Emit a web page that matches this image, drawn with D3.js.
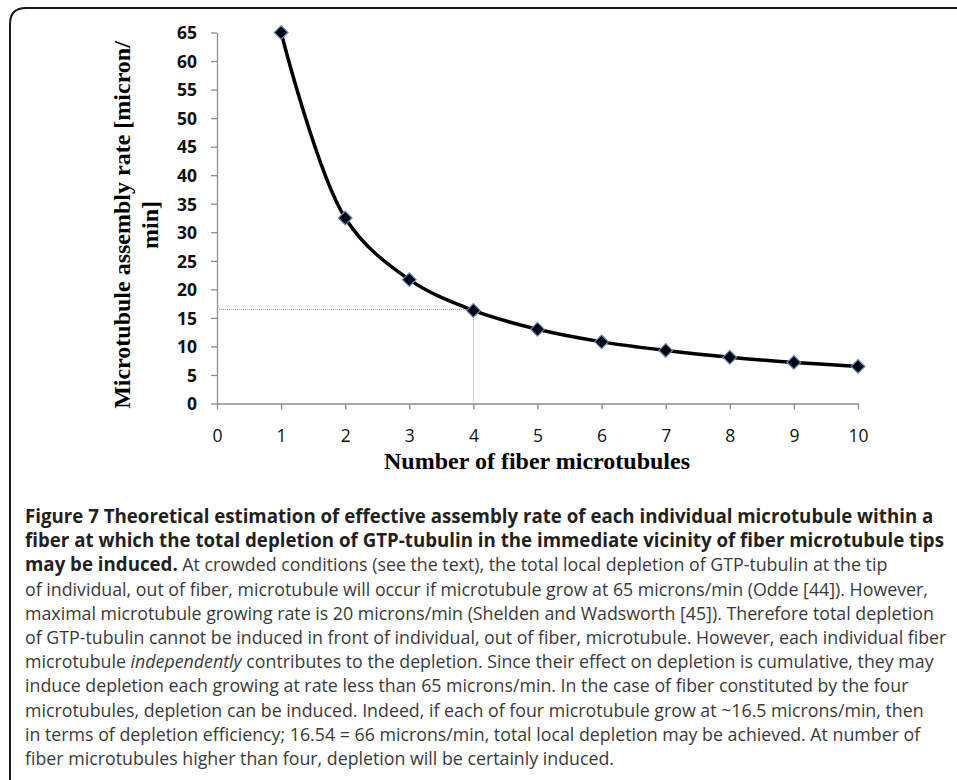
<!DOCTYPE html>
<html>
<head>
<meta charset="utf-8">
<script src="https://cdn.jsdelivr.net/npm/d3@7"></script>
<style>
  body { margin: 0; background: #fff; }
  svg { display: block; }
</style>
</head>
<body>
<div id="chart"></div>
<script>
// number of fiber microtubules and assembly rate
const fibers = [1, 2, 3, 4, 5, 6, 7, 8, 9, 10];
const rates = [65, 32.5, 21.7, 16.3, 13, 10.8, 9.3, 8.1, 7.2, 6.5];
const yTicks = [0, 5, 10, 15, 20, 25, 30, 35, 40, 45, 50, 55, 60, 65];
const xTicks = [0, 1, 2, 3, 4, 5, 6, 7, 8, 9, 10];
// guide point: four microtubules at ~16.5 microns/min
const guide = { x: 4, y: 16.5 };

const captionLines = [
	[{ t: "Figure 7 Theoretical estimation of effective assembly rate of each individual microtubule within a", w: "bold" }],
	[{ t: "fiber at which the total depletion of GTP-tubulin in the immediate vicinity of fiber microtubule tips", w: "bold" }],
	[{ t: "may be induced.", w: "bold" }, { t: " At crowded conditions (see the text), the total local depletion of GTP-tubulin at the tip" }],
	[{ t: "of individual, out of fiber, microtubule will occur if microtubule grow at 65 microns/min (Odde [44]). However," }],
	[{ t: "maximal microtubule growing rate is 20 microns/min (Shelden and Wadsworth [45]). Therefore total depletion" }],
	[{ t: "of GTP-tubulin cannot be induced in front of individual, out of fiber, microtubule. However, each individual fiber" }],
	[{ t: "microtubule " }, { t: "independently", s: "italic" }, { t: " contributes to the depletion. Since their effect on depletion is cumulative, they may" }],
	[{ t: "induce depletion each growing at rate less than 65 microns/min. In the case of fiber constituted by the four" }],
	[{ t: "microtubules, depletion can be induced. Indeed, if each of four microtubule grow at ~16.5 microns/min, then" }],
	[{ t: "in terms of depletion efficiency; 16.54 = 66 microns/min, total local depletion may be achieved. At number of" }],
	[{ t: "fiber microtubules higher than four, depletion will be certainly induced." }],
];

const width = 957;
const height = 780;

const svg = d3
	.select("#chart")
	.append("svg")
	.attr("width", width)
	.attr("height", height)
	.attr("viewBox", `0 0 ${width} ${height}`);

// frame: rounded top-left corner, open to the right and bottom
svg
	.append("path")
	.attr("d", "M10,780 L10,24 Q10,8 26,8 L957,8")
	.attr("fill", "none")
	.attr("stroke", "#1a1a1a")
	.attr("stroke-width", 2);

const x = d3.scaleLinear().domain([0, 10]).range([217, 858]);
const y = d3.scaleLinear().domain([0, 65]).range([403.5, 32.5]);

// axes
const xAxis = svg
	.append("g")
	.attr("transform", `translate(0,${y(0)})`)
	.call(d3.axisBottom(x).tickValues(xTicks).tickSize(6).tickPadding(20).tickSizeOuter(0));

const yAxis = svg
	.append("g")
	.attr("transform", `translate(${x(0)},0)`)
	.call(d3.axisLeft(y).tickValues(yTicks).tickSize(6).tickPadding(14).tickSizeOuter(0));

[xAxis, yAxis].forEach((g) => {
	g.select(".domain").attr("stroke", "#8c8c8c").attr("stroke-width", 1.3);
	g.selectAll(".tick line").attr("stroke", "#8c8c8c").attr("stroke-width", 1.3);
	g.selectAll(".tick text").attr("fill", "#111").attr("font-family", "Open Sans");
});
xAxis.selectAll(".tick text").attr("font-size", 17.5);
yAxis.selectAll(".tick text").attr("font-size", 17.5).attr("font-weight", "bold").attr("dy", "0.36em");

// dotted guide lines
svg
	.append("line")
	.attr("x1", x(0))
	.attr("x2", x(guide.x))
	.attr("y1", y(guide.y))
	.attr("y2", y(guide.y))
	.attr("stroke", "#9a9a9a")
	.attr("stroke-width", 1)
	.attr("stroke-dasharray", "1,1");

svg
	.append("line")
	.attr("x1", x(guide.x))
	.attr("x2", x(guide.x))
	.attr("y1", y(guide.y))
	.attr("y2", y(0))
	.attr("stroke", "#9a9a9a")
	.attr("stroke-width", 1)
	.attr("stroke-dasharray", "1,1");

// smoothed series line
const points = fibers.map((f, i) => [f, rates[i]]);
const line = d3
	.line()
	.x((d) => x(d[0]))
	.y((d) => y(d[1]))
	.curve(d3.curveCatmullRom.alpha(0.5));

svg
	.append("path")
	.datum(points)
	.attr("d", line)
	.attr("fill", "none")
	.attr("stroke", "#000")
	.attr("stroke-width", 3.5);

// diamond markers
const diamond = d3.symbol().type(d3.symbolDiamond2).size(120);
svg
	.selectAll(".marker")
	.data(points)
	.enter()
	.append("path")
	.attr("class", "marker")
	.attr("d", diamond)
	.attr("transform", (d) => `translate(${x(d[0])},${y(d[1])})`)
	.attr("fill", "#000")
	.attr("stroke", "#5b8fd0")
	.attr("stroke-width", 1.2);

// axis titles
svg
	.append("text")
	.attr("x", 537)
	.attr("y", 469)
	.attr("text-anchor", "middle")
	.attr("font-family", "Liberation Serif")
	.attr("font-weight", "bold")
	.attr("font-size", 24)
	.attr("fill", "#000")
	.text("Number of fiber microtubules");

const yTitle = svg
	.append("text")
	.attr("transform", "translate(0,225) rotate(-90)")
	.attr("text-anchor", "middle")
	.attr("font-family", "Liberation Serif")
	.attr("font-weight", "bold")
	.attr("font-size", 24)
	.attr("fill", "#000");

yTitle.append("tspan").attr("x", 0).attr("y", 130).text("Microtubule assembly rate [micron/");
yTitle.append("tspan").attr("x", 0).attr("y", 158).text("min]");

// caption
const caption = svg.append("g").attr("font-family", "Open Sans");

captionLines.forEach((parts, i) => {
	const t = caption
		.append("text")
		.attr("x", 25)
		.attr("y", 523 + i * 24.2);
	parts.forEach((p) => {
		t.append("tspan")
			.attr("font-weight", p.w || "normal")
			.attr("font-style", p.s || "normal")
			.attr("font-size", p.w ? 18.7 : 17.8)
			.attr("fill", p.w ? "#231f20" : "#3a3a3a")
			.text(p.t);
	});
});
</script>
</body>
</html>
